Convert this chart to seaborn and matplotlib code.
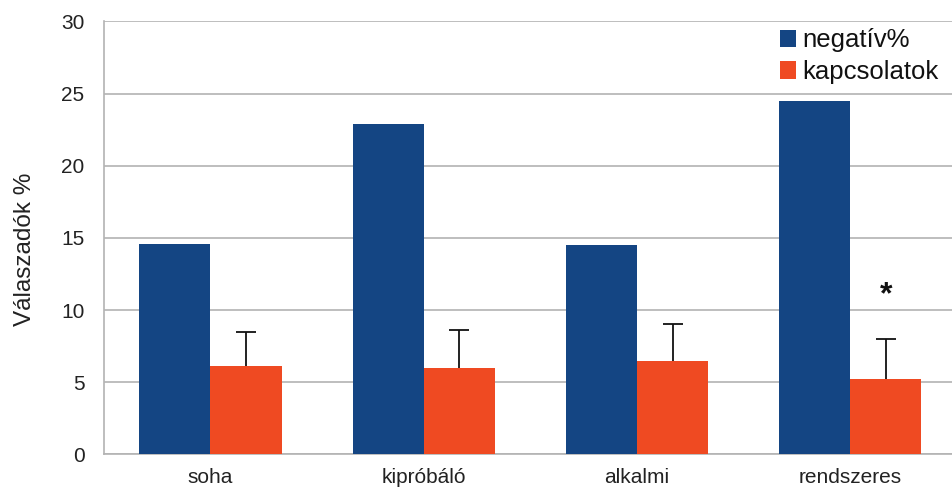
import matplotlib
matplotlib.use("Agg")
import matplotlib.pyplot as plt
import seaborn as sns
import pandas as pd
import numpy as np
from matplotlib.patches import Patch

categories = ["soha", "kipróbáló", "alkalmi", "rendszeres"]
series = ["negatív%", "kapcsolatok"]
negativ = [14.6, 22.9, 14.5, 24.5]
kapcsolatok = [6.1, 6.0, 6.5, 5.2]
kapcs_err = [2.4, 2.6, 2.5, 2.8]
signif = ["", "", "", "*"]
colors = ["#144583", "#ef4a22"]

df = pd.DataFrame({
    "cat": categories * 2,
    "series": [series[0]] * 4 + [series[1]] * 4,
    "val": negativ + kapcsolatok,
})

sns.set_style("white")
plt.rcParams["font.family"] = ["Liberation Sans", "DejaVu Sans"]

fig = plt.figure(figsize=(9.53, 4.87), dpi=100)
ax = fig.add_axes([0.109, 0.067, 0.895, 0.889])

sns.barplot(data=df, x="cat", y="val", hue="series", order=categories,
            hue_order=series, palette=colors, width=0.667, gap=0,
            saturation=1, errorbar=None, ax=ax, legend=False, zorder=3,
            linewidth=0)

# error bars (upper only) on the second series
bars = ax.containers[1]
xs = [b.get_x() + b.get_width() / 2 for b in bars]
eb = ax.errorbar(xs, kapcsolatok, yerr=[np.zeros(4), kapcs_err], fmt="none",
                 ecolor="#111111", elinewidth=1.3, capsize=7, capthick=1.3, zorder=4)
eb[1][0].set_visible(False)
for x, v, e, s in zip(xs, kapcsolatok, kapcs_err, signif):
    if s:
        ax.text(x, v + e + 3.0, s, ha="center", va="center", fontsize=23,
                fontweight="bold", color="#111111")

ax.set_ylim(0, 30)
ax.set_xlim(-0.5, 3.5)
ax.set_yticks(range(0, 31, 5))
ax.yaxis.grid(True, color="#b3b3b3", linewidth=1.2, zorder=0)
ax.set_axisbelow(True)
for sp in ["top", "right"]:
    ax.spines[sp].set_visible(False)
ax.spines["left"].set_color("#b3b3b3")
ax.spines["left"].set_linewidth(1.2)
ax.spines["bottom"].set_color("#b3b3b3")
ax.spines["bottom"].set_linewidth(1.2)

ax.tick_params(axis="y", length=9, width=1.2, color="#b3b3b3", pad=5,
               labelsize=15, labelcolor="#222222")
ax.set_xticks(range(4))
ax.set_xticklabels(categories)
ax.tick_params(axis="x", which="major", length=0, pad=10, labelsize=15,
               labelcolor="#222222")
ax.set_xticks(np.arange(-0.5, 4, 1), minor=True)
ax.tick_params(axis="x", which="minor", length=9, width=1.2, color="#b3b3b3")

ax.set_xlabel("")
ax.set_ylabel("Válaszadók %", fontsize=17.5, color="#222222")
ax.yaxis.set_label_coords(-0.080, 0.474)

handles = [Patch(facecolor=c, edgecolor="none") for c in colors]
leg = fig.legend(handles, series, loc="upper left", bbox_to_anchor=(0.818, 0.942),
                 frameon=False, fontsize=18.5, handlelength=0.65, handleheight=0.65,
                 handletextpad=0.25, labelspacing=0.3, borderaxespad=0,
                 borderpad=0)
for t in leg.get_texts():
    t.set_color("#111111")

fig.savefig("out.png", dpi=100)
